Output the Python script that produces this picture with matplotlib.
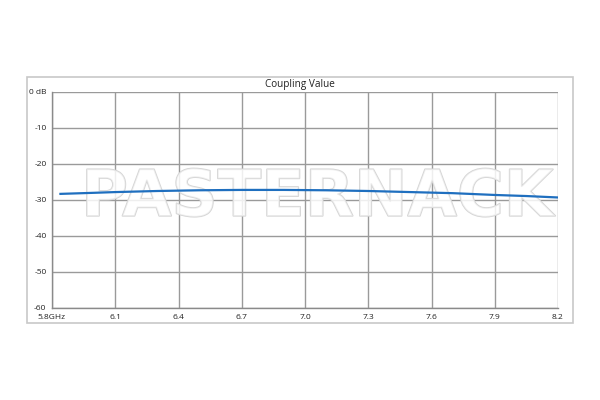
import matplotlib.pyplot as plt
import matplotlib.patheffects as pe
from matplotlib.patches import Rectangle

# Coupling value
freq_ghz = [5.84, 6.0, 6.1, 6.3, 6.5, 6.7, 6.9, 7.1, 7.3, 7.5, 7.7, 7.9, 8.05, 8.2]
coupling_db = [-28.3, -28.0, -27.8, -27.5, -27.3, -27.2, -27.2, -27.3, -27.5,
               -27.8, -28.1, -28.6, -28.9, -29.3]

x_ticks = [5.8, 6.1, 6.4, 6.7, 7.0, 7.3, 7.6, 7.9, 8.2]
x_labels = ["5.8GHz", "6.1", "6.4", "6.7", "7.0", "7.3", "7.6", "7.9", "8.2"]
y_ticks = [0, -10, -20, -30, -40, -50, -60]
y_labels = ["0 dB", "-10", "-20", "-30", "-40", "-50", "-60"]

plt.rcParams["font.family"] = ["Open Sans", "DejaVu Sans"]

fig = plt.figure(figsize=(6, 4), dpi=100)
fig.patches.append(Rectangle((27 / 600, 1 - 323 / 400), 546 / 600, 246 / 400,
                             transform=fig.transFigure, fill=False,
                             edgecolor="#c8c8c8", linewidth=1.2))

ax = fig.add_axes([52 / 600, 1 - 308 / 400, 506 / 600, 216 / 400])
ax.set_xlim(5.8, 8.2)
ax.set_ylim(-60, 0)
ax.set_xticks(x_ticks)
ax.set_xticklabels(x_labels)
ax.set_yticks(y_ticks)
ax.set_yticklabels(y_labels)
ax.tick_params(length=0, labelsize=6, colors="#222222", pad=4)
ax.grid(True, color="#9a9a9a", linewidth=1)
for side in ["top", "right"]:
    ax.spines[side].set_visible(False)
for side in ["left", "bottom"]:
    ax.spines[side].set_color("#8a8a8a")
    ax.spines[side].set_linewidth(1)

# watermark
ax.text(0.524, 0.51, "PASTERNACK", transform=ax.transAxes, ha="center", va="center",
        fontsize=46, fontweight="bold", family="DejaVu Sans", color=(1, 1, 1, 0.6),
        path_effects=[pe.Stroke(linewidth=1.2, foreground="#d4d4d4"),
                      pe.Normal()],
        zorder=2)

ax.plot(freq_ghz, coupling_db, color="#1f6fbf", linewidth=1.6, zorder=3)

fig.text(0.5, 1 - 85 / 400, "Coupling Value", ha="center", va="center",
         fontsize=7.2, color="#222222")

fig.savefig("out.png", dpi=100)
